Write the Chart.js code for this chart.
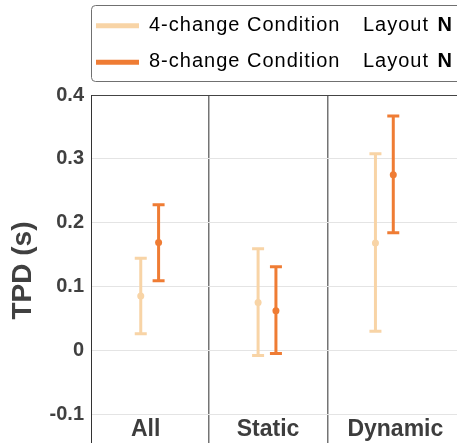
<!DOCTYPE html>
<html>
<head>
<meta charset="utf-8">
<script src="https://cdn.jsdelivr.net/npm/chart.js@4.4.1/dist/chart.umd.min.js"></script>
<style>
  html, body { margin: 0; padding: 0; background: #fff; overflow: hidden; }
  #tpdChart { display: block; }
</style>
</head>
<body>
<canvas id="tpdChart" width="470" height="465"></canvas>
<script>
// values (TPD in seconds)
const categories = ['All', 'Static', 'Dynamic'];
const seriesLabels = ['4-change Condition', '8-change Condition'];
const mean4 = [0.085, 0.075, 0.168];
const low4 = [0.026, -0.008, 0.030];
const high4 = [0.144, 0.159, 0.308];
const mean8 = [0.169, 0.062, 0.275];
const low8 = [0.109, -0.005, 0.184];
const high8 = [0.228, 0.131, 0.367];
const yTicks = [-0.1, 0, 0.1, 0.2, 0.3, 0.4];
const dividers = [1.5, 2.52];

const colors = ['rgb(248, 212, 166)', 'rgb(239, 124, 52)'];
const FONT = "'Liberation Sans', Arial, Helvetica, sans-serif";
const OFFSET = 0.076;
const labelNudge = [-4, 1, 11];   // px, the group names are not quite centred

const lows = [low4, low8];
const highs = [high4, high8];

// error bars, drawn with the chart's own y scale
const errorBars = {
    id: 'errorBars',
    beforeDatasetsDraw(chart) {
        const ctx = chart.ctx;
        const y = chart.scales.y;
        chart.data.datasets.forEach((ds, di) => {
            const meta = chart.getDatasetMeta(di);
            meta.data.forEach((pt, i) => {
                const top = y.getPixelForValue(highs[di][i]);
                const bot = y.getPixelForValue(lows[di][i]);
                ctx.save();
                ctx.strokeStyle = ds.backgroundColor;
                ctx.lineWidth = 3;
                ctx.beginPath();
                ctx.moveTo(pt.x, top);
                ctx.lineTo(pt.x, bot);
                ctx.moveTo(pt.x - 6, top);
                ctx.lineTo(pt.x + 6, top);
                ctx.moveTo(pt.x - 6, bot);
                ctx.lineTo(pt.x + 6, bot);
                ctx.stroke();
                ctx.restore();
            });
        });
    }
};

// category names sit inside the plot, under the -0.1 line
const groupLabels = {
    id: 'groupLabels',
    afterDraw(chart) {
        const ctx = chart.ctx;
        const x = chart.scales.x;
        ctx.save();
        ctx.font = 'bold 23px ' + FONT;
        ctx.fillStyle = '#3d3d3d';
        ctx.textAlign = 'center';
        ctx.textBaseline = 'middle';
        categories.forEach((c, i) => {
            ctx.fillText(c, x.getPixelForValue(i + 1) + labelNudge[i], 430);
        });
        ctx.restore();
    }
};

// boxed legend at the top
const boxLegend = {
    id: 'boxLegend',
    afterDraw(chart) {
        const ctx = chart.ctx;
        ctx.save();
        ctx.strokeStyle = '#707070';
        ctx.lineWidth = 1;
        ctx.beginPath();
        ctx.roundRect(91.5, 5.5, 420, 76, 4);
        ctx.stroke();
        const rows = [25.7, 62.3];
        chart.data.datasets.forEach((ds, di) => {
            const ry = rows[di];
            ctx.strokeStyle = ds.backgroundColor;
            ctx.lineWidth = 5;
            ctx.beginPath();
            ctx.moveTo(96, ry);
            ctx.lineTo(139, ry);
            ctx.stroke();
            ctx.fillStyle = '#000';
            ctx.textBaseline = 'alphabetic';
            ctx.letterSpacing = '1px';
            ctx.font = '20px ' + FONT;
            ctx.fillText(ds.label, 149, ry + 5);
            ctx.fillText('Layout', 363, ry + 5);
            const w = ctx.measureText('Layout ').width;
            ctx.font = 'bold 20px ' + FONT;
            ctx.fillText('N', 363 + w + 2, ry + 5);
        });
        ctx.restore();
    }
};

const data = {
    datasets: [0, 1].map(di => ({
        label: seriesLabels[di],
        data: (di === 0 ? mean4 : mean8).map((m, i) => ({
            x: i + 1 + (di === 0 ? -OFFSET : OFFSET),
            y: m
        })),
        backgroundColor: colors[di],
        borderColor: colors[di],
        pointRadius: 3.5,
        pointHoverRadius: 3.5,
        borderWidth: 0
    }))
};

const config = {
    type: 'scatter',
    data: data,
    options: {
        responsive: false,
        animation: false,
        devicePixelRatio: 1,
        layout: { padding: { top: 95, left: 0, right: 0, bottom: 0 } },
        plugins: {
            legend: { display: false },
            tooltip: { enabled: false }
        },
        scales: {
            x: {
                type: 'linear',
                min: 0.5,
                max: 3.7,
                afterBuildTicks: (s) => { s.ticks = dividers.map(v => ({ value: v })); },
                afterFit: (s) => { s.height = 0; },
                ticks: { display: false },
                border: { display: false },
                grid: { drawTicks: false, color: 'rgba(70, 70, 70, 0.75)', lineWidth: 1.5 }
            },
            y: {
                min: -0.15,
                max: 0.4,
                afterBuildTicks: (s) => { s.ticks = yTicks.map(v => ({ value: v })); },
                afterFit: (s) => { s.width = 91; },
                ticks: {
                    padding: 7,
                    color: '#404040',
                    font: { family: FONT, size: 20, weight: 'bold' },
                    callback: (v) => String(+v.toFixed(1))
                },
                border: { display: true, color: '#333', width: 1 },
                grid: {
                    drawTicks: false,
                    color: (c) => (c.tick && c.tick.value === 0.4 ? '#444' : '#e4e4e4'),
                    lineWidth: 1
                },
                title: {
                    display: true,
                    text: 'TPD (s)',
                    color: '#404040',
                    font: { family: FONT, size: 28, weight: 'bold' },
                    padding: { top: 6, bottom: 4 }
                }
            }
        }
    },
    plugins: [errorBars, groupLabels, boxLegend]
};

new Chart(document.getElementById('tpdChart'), config);
</script>
</body>
</html>
